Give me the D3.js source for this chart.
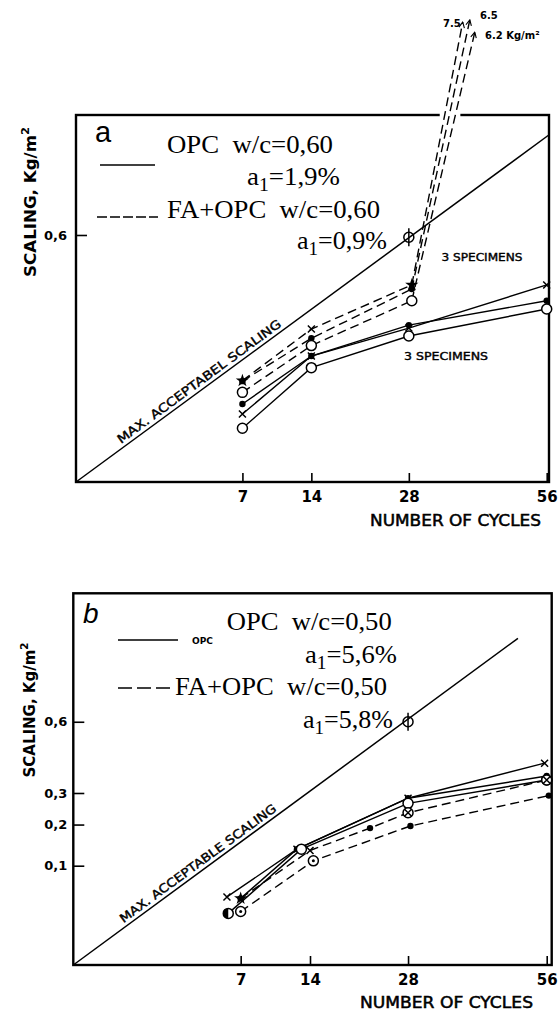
<!DOCTYPE html>
<html><head><meta charset="utf-8">
<script src="https://cdn.jsdelivr.net/npm/d3@7"></script>
<style>body{margin:0;background:#fff}</style>
</head><body>
<svg id="c" width="558" height="1012" xmlns="http://www.w3.org/2000/svg"></svg>
<script>
// ---------- DATA ----------
const cycleTicks = [7, 14, 28, 56];
const scalingTicksA = [0.6];
const scalingTicksB = [0.6, 0.3, 0.2, 0.1];

// Panel a : OPC w/c=0,60 (solid) and FA+OPC w/c=0,60 (dashed)
const maxLineA = [[0, 0], [56.5, 1.184]];
const phiA = [[28, 0.589]];
const opcA1 = [[7, 0.0455], [14, 0.156], [28, 0.233], [56, 0.382]];
const opcA2 = [[7, 0.0598], [14, 0.156], [28, 0.242], [56, 0.323]];
const opcA3 = [[7, 0.0284], [14, 0.1285], [28, 0.2096], [56, 0.2943]];
const faA1 = [[7, 0.101], [14, 0.230], [28.5, 0.382]];
const faA2 = [[7, 0.100], [14, 0.203], [28.5, 0.366]];
const faA3 = [[7, 0.079], [14, 0.183], [28.5, 0.323]];
const faATips = [[37.8, 2.08], [39.2, 2.10], [40.2, 1.99]];   // off-chart (arrows)
const faATipLabels = ["7.5", "6.5", "6.2 Kg/m²"];

// Panel b : OPC w/c=0,50 (solid) and FA+OPC w/c=0,50 (dashed)
const maxLineB = [[0, 0], [49.4, 1.082]];
const phiB = [[28, 0.600]];
const opcB1 = [[5.9, 0.047], [12.5, 0.136], [28, 0.282], [55.5, 0.413]];
const opcB2 = [[7, 0.045], [12.5, 0.136], [28, 0.282], [56, 0.362]];
const opcB3 = [[6, 0.027], [13, 0.136], [28, 0.265], [56, 0.347]];
const faB1 = [[7, 0.045], [14, 0.133], [22, 0.190], [28, 0.235], [56, 0.347]];
const faB2 = [[7, 0.029], [14.4, 0.110], [28.4, 0.196], [56.5, 0.291]];

// ---------- DRAW ----------
const svg = d3.select("#c");
svg.append("rect").attr("width", 558).attr("height", 1012).attr("fill", "#fff");
const defs = svg.append("defs");
defs.append("marker").attr("id", "arr").attr("viewBox", "0 0 10 10")
  .attr("refX", 9).attr("refY", 5).attr("markerWidth", 7).attr("markerHeight", 7)
  .attr("markerUnits", "userSpaceOnUse").attr("orient", "auto")
  .append("path").attr("d", "M1,1 L9,5 L1,9").attr("fill", "none").attr("stroke", "#000").attr("stroke-width", 1.6);

const HAND = "'DejaVu Sans', sans-serif";
const SERIF = "'Liberation Serif', 'Times New Roman', serif";
const SP = "\u00a0\u00a0";

function marker(g, type, px, py) {
  const k = g.append("g").attr("transform", `translate(${px},${py})`);
  const st = s => s.attr("stroke", "#000").attr("stroke-width", 1.5);
  if (type === "cross") {
    st(k.append("path").attr("d", "M-3.5,-3.5L3.5,3.5M-3.5,3.5L3.5,-3.5").attr("fill", "none"));
  } else if (type === "dot") {
    k.append("circle").attr("r", 3.2).attr("fill", "#000");
  } else if (type === "circle") {
    st(k.append("circle").attr("r", 5).attr("fill", "#fff"));
  } else if (type === "star") {
    k.append("path").attr("d", d3.symbol(d3.symbolStar, 55)()).attr("fill", "#000");
  } else if (type === "odot") {
    st(k.append("circle").attr("r", 5).attr("fill", "#fff"));
    k.append("circle").attr("r", 1.5).attr("fill", "#000");
  } else if (type === "xcircle") {
    st(k.append("circle").attr("r", 5).attr("fill", "#fff"));
    st(k.append("path").attr("d", "M-3.5,-3.5L3.5,3.5M-3.5,3.5L3.5,-3.5"));
  } else if (type === "half") {
    st(k.append("circle").attr("r", 5).attr("fill", "#fff"));
    k.append("path").attr("d", "M0,-5A5,5 0 0 0 0,5Z").attr("fill", "#000");
  } else if (type === "phi") {
    st(k.append("circle").attr("r", 5).attr("fill", "none"));
    st(k.append("line").attr("y1", -9).attr("y2", 9));
  }
}

function legendText(g, x, y, parts, len) {
  const t = g.append("text").attr("x", x).attr("y", y)
    .attr("font-family", SERIF).attr("font-size", 26).attr("fill", "#000");
  parts.forEach(p => {
    const s = t.append("tspan").text(p.t);
    if (p.sub) s.attr("dy", 6).attr("font-size", 19);
    if (p.up) s.attr("dy", -6);
  });
  if (len) t.attr("textLength", len).attr("lengthAdjust", "spacingAndGlyphs");
  return t;
}

function handText(g, x, y, txt, size, len, anchor, weight) {
  const t = g.append("text").attr("x", x).attr("y", y).text(txt)
    .attr("font-family", HAND).attr("font-size", size).attr("font-weight", weight || "bold")
    .attr("text-anchor", anchor || "start");
  if (len) t.attr("textLength", len).attr("lengthAdjust", "spacingAndGlyphs");
  return t;
}

function panel(cfg) {
  const g = svg.append("g");
  const x = cfg.x, y = cfg.y;
  const x0 = x.range()[0], x1 = cfg.frameRight;
  const [y0, y1] = y.range();
  const line = d3.line().x(d => x(d[0])).y(d => y(d[1]));

  // axes
  const ax = g.append("g").attr("transform", `translate(0,${y0})`)
    .call(d3.axisBottom(x).tickValues(cycleTicks).tickSizeInner(-9).tickSizeOuter(0).tickPadding(9).tickFormat(d3.format("d")));
  ax.select(".domain").remove();
  ax.selectAll("line").attr("stroke-width", 1.6);
  ax.selectAll("text").attr("font-family", HAND).attr("font-size", 15).attr("font-weight", "bold");
  const ay = g.append("g").attr("transform", `translate(${x0},0)`)
    .call(d3.axisLeft(y).tickValues(cfg.yTicks).tickSizeInner(-11).tickSizeOuter(0).tickPadding(cfg.yPad)
      .tickFormat(d => String(d).replace(".", ",")));
  ay.select(".domain").remove();
  ay.selectAll("line").attr("stroke-width", 1.6);
  ay.selectAll("text").attr("font-family", HAND).attr("font-size", 13).attr("font-weight", "bold");

  // frame
  g.append("rect").attr("x", x0).attr("y", y1).attr("width", x1 - x0).attr("height", y0 - y1)
    .attr("fill", "none").attr("stroke", "#000").attr("stroke-width", 2.4);

  // max acceptable line
  g.append("path").attr("d", line(cfg.maxLine)).attr("fill", "none").attr("stroke", "#000").attr("stroke-width", 1.5);
  const pA = [x(cfg.maxLine[0][0]), y(cfg.maxLine[0][1])], pB = [x(cfg.maxLine[1][0]), y(cfg.maxLine[1][1])];
  const ang = Math.atan2(pB[1] - pA[1], pB[0] - pA[0]) * 180 / Math.PI;
  const t = cfg.maxLabelT;
  const px = pA[0] + t * (pB[0] - pA[0]), py = pA[1] + t * (pB[1] - pA[1]);
  const ml = g.append("g").attr("transform", `translate(${px},${py}) rotate(${ang})`);
  handText(ml, 0, -4, cfg.maxLabel, 12, cfg.maxLabelLen, "start", "normal").attr("stroke", "#000").attr("stroke-width", 0.4);
  cfg.phi.forEach(d => marker(g, "phi", x(d[0]), y(d[1])));

  // series
  cfg.series.forEach(s => {
    g.append("path").attr("d", line(s.data)).attr("fill", "none").attr("stroke", "#000")
      .attr("stroke-width", 1.4).attr("stroke-dasharray", s.dash ? "9,5" : null);
  });
  if (cfg.tips) {
    const segs = cfg.tips.map((tp, i) => {
      const last = cfg.series[cfg.tipSeries[i]].data.slice(-1)[0];
      return [last, tp];
    });
    // gap in the frame where the curves leave the plot
    const xs = segs.map(([a, b]) => {
      const ax_ = x(a[0]), ay_ = y(a[1]), bx = x(b[0]), by = y(b[1]);
      return ax_ + (y1 - ay_) * (bx - ax_) / (by - ay_);
    });
    g.append("line").attr("x1", d3.min(xs) - 5).attr("x2", d3.max(xs) + 5).attr("y1", y1).attr("y2", y1)
      .attr("stroke", "#fff").attr("stroke-width", 4);
    segs.forEach(sg => {
      g.append("path").attr("d", line(sg)).attr("fill", "none").attr("stroke", "#000")
        .attr("stroke-width", 1.4).attr("stroke-dasharray", "9,5").attr("marker-end", "url(#arr)");
    });
    cfg.tipLabelPos.forEach((p, i) => handText(g, p[0], p[1], cfg.tipLabels[i], 10, null));
  }
  cfg.series.forEach(s => {
    s.data.forEach((d, i) => marker(g, (s.markers && s.markers[i]) || s.marker, x(d[0]), y(d[1])));
  });

  // labels
  handText(g, cfg.xLabelPos[0], cfg.xLabelPos[1], "NUMBER OF CYCLES", 15, cfg.xLabelLen, "start", "normal")
    .attr("stroke", "#000").attr("stroke-width", 0.5);
  const yl = g.append("text").attr("transform", `translate(${cfg.yLabelPos[0]},${cfg.yLabelPos[1]}) rotate(-90)`)
    .attr("text-anchor", "middle").attr("font-family", HAND).attr("font-size", 16).attr("font-weight", "bold")
    .attr("textLength", cfg.yLabelLen).attr("lengthAdjust", "spacingAndGlyphs");
  yl.append("tspan").text("SCALING, Kg/m");
  yl.append("tspan").text("2").attr("dy", -7).attr("font-size", 11);
  return g;
}

// ---- panel a ----
const gA = panel({
  x: d3.scaleSqrt().domain([0, 56]).range([76, 546.7]), frameRight: 549,
  y: d3.scaleSqrt().domain([0, 1.3245]).range([482, 115]),
  yTicks: scalingTicksA, yPad: 9,
  maxLine: maxLineA, maxLabel: "MAX. ACCEPTABEL SCALING", maxLabelT: 0.10, maxLabelLen: 200,
  phi: phiA,
  series: [
    {data: opcA1, marker: "cross"}, {data: opcA2, marker: "dot"}, {data: opcA3, marker: "circle"},
    {data: faA1, marker: "star", markers: ["star", "cross", "star"], dash: true},
    {data: faA2, marker: "dot", dash: true}, {data: faA3, marker: "circle", dash: true}
  ],
  tips: faATips, tipSeries: [3, 4, 5], tipLabels: faATipLabels,
  tipLabelPos: [[443, 27], [480, 19], [485, 39]],
  xLabelPos: [370, 526], xLabelLen: 171,
  yLabelPos: [36, 202], yLabelLen: 150
});
handText(gA, 482, 261, "3 SPECIMENS", 11, 81, "middle", "normal").attr("stroke", "#000").attr("stroke-width", 0.4);
handText(gA, 446, 360, "3 SPECIMENS", 11, 84, "middle", "normal").attr("stroke", "#000").attr("stroke-width", 0.4);
gA.append("text").attr("x", 95).attr("y", 142).text("a").attr("font-family", "'Liberation Sans', Arial, sans-serif").attr("font-size", 29);
gA.append("line").attr("x1", 100).attr("x2", 155).attr("y1", 165).attr("y2", 165).attr("stroke", "#000").attr("stroke-width", 1.6);
legendText(gA, 167, 153, [{t: "OPC" + SP + "w/c=0,60"}], 166);
legendText(gA, 247, 185, [{t: "a"}, {t: "1", sub: true}, {t: "=1,9%", up: true}], 93);
gA.append("line").attr("x1", 97).attr("x2", 158).attr("y1", 217).attr("y2", 217).attr("stroke", "#000").attr("stroke-width", 1.6).attr("stroke-dasharray", "10,3");
legendText(gA, 167, 218, [{t: "FA+OPC" + SP + "w/c=0,60"}], 213);
legendText(gA, 297, 249, [{t: "a"}, {t: "1", sub: true}, {t: "=0,9%", up: true}], 90);

// ---- panel b ----
const gB = panel({
  x: d3.scaleSqrt().domain([0, 56]).range([73.3, 546.7]), frameRight: 551.7,
  y: d3.scaleSqrt().domain([0, 1.401]).range([965, 593.3]),
  yTicks: scalingTicksB, yPad: 6,
  maxLine: maxLineB, maxLabel: "MAX. ACCEPTABLE SCALING", maxLabelT: 0.118, maxLabelLen: 191,
  phi: phiB,
  series: [
    {data: opcB1, marker: "cross"}, {data: opcB2, marker: "dot", markers: ["star", "dot", "dot", "dot"]},
    {data: opcB3, marker: "circle", markers: ["half", "circle", "circle", "circle"]},
    {data: faB1, marker: "xcircle", markers: ["dot", "cross", "dot", "xcircle", "xcircle"], dash: true},
    {data: faB2, marker: "dot", markers: ["odot", "odot", "dot", "dot"], dash: true}
  ],
  xLabelPos: [360, 1008], xLabelLen: 173,
  yLabelPos: [35, 710], yLabelLen: 135
});
gB.append("text").attr("x", 83).attr("y", 623).text("b").attr("font-family", "'Liberation Sans', Arial, sans-serif")
  .attr("font-size", 28).attr("font-style", "italic");
gB.append("line").attr("x1", 118).attr("x2", 178).attr("y1", 640).attr("y2", 640).attr("stroke", "#000").attr("stroke-width", 1.6);
handText(gB, 192, 644, "OPC", 8, 21);
legendText(gB, 226.7, 630, [{t: "OPC" + SP + "w/c=0,50"}], 165);
legendText(gB, 305, 663, [{t: "a"}, {t: "1", sub: true}, {t: "=5,6%", up: true}], 92);
gB.append("line").attr("x1", 118).attr("x2", 175).attr("y1", 688).attr("y2", 688).attr("stroke", "#000").attr("stroke-width", 1.6).attr("stroke-dasharray", "14,5");
legendText(gB, 175, 695, [{t: "FA+OPC" + SP + "w/c=0,50"}], 212);
legendText(gB, 303, 728, [{t: "a"}, {t: "1", sub: true}, {t: "=5,8%", up: true}], 90);
</script>
</body></html>
